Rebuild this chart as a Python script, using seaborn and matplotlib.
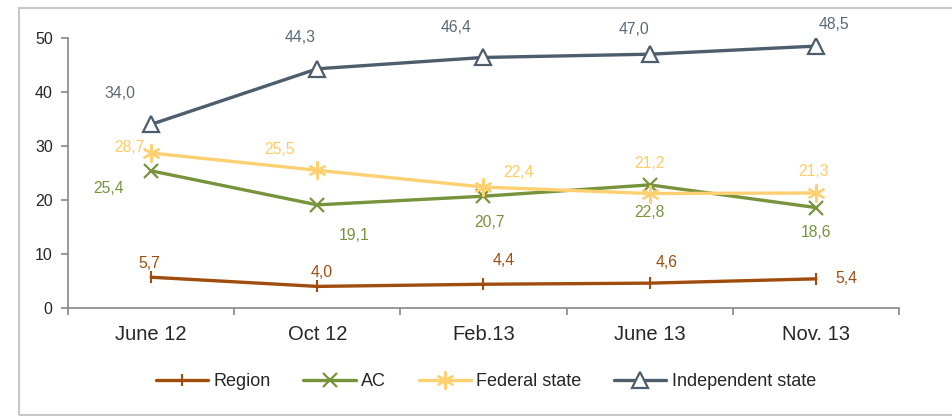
import matplotlib
matplotlib.use("Agg")
import matplotlib.pyplot as plt
import matplotlib.patches as patches
import seaborn as sns
import pandas as pd

# Survey waves and shares (%)
periods = ["June 12", "Oct 12", "Feb.13", "June 13", "Nov. 13"]
region = [5.7, 4.0, 4.4, 4.6, 5.4]
ac = [25.4, 19.1, 20.7, 22.8, 18.6]
federal_state = [28.7, 25.5, 22.4, 21.2, 21.3]
independent_state = [34.0, 44.3, 46.4, 47.0, 48.5]
series_names = ["Region", "AC", "Federal state", "Independent state"]

sns.set_style("white")
plt.rcParams["font.family"] = ["Liberation Sans", "DejaVu Sans"]

df = pd.DataFrame({"period": periods, "Region": region, "AC": ac,
                   "Federal state": federal_state, "Independent state": independent_state})

colors = {"Region": "#A04C0C", "AC": "#77933C", "Federal state": "#FFD071", "Independent state": "#4E5D6C"}
label_colors = {"Region": "#A04C0C", "AC": "#77933C", "Federal state": "#FFCC66", "Independent state": "#5A6876"}
marker_kw = {
    "Region": dict(marker="|", markersize=8, markeredgewidth=1.5),
    "AC": dict(marker="x", markersize=10, markeredgewidth=1.6),
    "Federal state": dict(marker=(6, 2, 0), markersize=13, markeredgewidth=1.6),
    "Independent state": dict(marker="^", markersize=11, markeredgewidth=1.6, markerfacecolor="white"),
}

# label offsets in pixels (dx, dy) relative to each point
offsets = {
    "Region": [(-2, 14), (4, 14), (20, 24), (17, 21), (30, 0)],
    "AC": [(-43, -18), (37, -31), (6, -26), (0, -28), (0, -25)],
    "Federal state": [(-22, 6), (-38, 21), (35, 15), (0, 30), (-2, 21)],
    "Independent state": [(-31, 31), (-17, 31), (-27, 30), (-16, 25), (18, 22)],
}

fig = plt.figure(figsize=(9.53, 4.16), dpi=100)
ax = fig.add_axes([68 / 953, 1 - 308 / 416, 831 / 953, 270 / 416])

x = list(range(len(periods)))
for name in series_names:
    sns.lineplot(x=x, y=df[name], ax=ax, color=colors[name], linewidth=2.4,
                 markeredgecolor=colors[name], label=name, **marker_kw[name])
    for i, v in enumerate(df[name]):
        dx, dy = offsets[name][i]
        ax.annotate(f"{v:.1f}".replace(".", ","), (i, v), xytext=(dx, dy),
                    textcoords="offset pixels", ha="center", va="center",
                    fontsize=11.3, color=label_colors[name])

ax.set_xlim(-0.5, 4.5)
ax.set_ylim(0, 50)
ax.set_yticks(range(0, 51, 10))
ax.set_xticks(x)
ax.set_xticklabels(periods, fontsize=14.5)
ax.set_xticks([i - 0.5 for i in range(6)], minor=True)
ax.tick_params(axis="x", which="major", bottom=True, length=0, pad=12)
ax.tick_params(axis="x", which="minor", bottom=True, length=5, color="#868686", width=1.2)
ax.tick_params(axis="y", left=True, length=5, color="#868686", width=1.2, labelsize=11.5, pad=6)
ax.set_xlabel("")
ax.set_ylabel("")
for s in ["top", "right"]:
    ax.spines[s].set_visible(False)
for s in ["left", "bottom"]:
    ax.spines[s].set_color("#868686")
    ax.spines[s].set_linewidth(1.2)

h, l = ax.get_legend_handles_labels()
ax.legend_.remove()
fig.legend(h, l, loc="center", bbox_to_anchor=(486 / 953, 1 - 382 / 416), ncol=4,
           frameon=False, fontsize=13, handlelength=2.9, handletextpad=0.3, columnspacing=1.8)

fig.patches.append(patches.Rectangle((19 / 953, 1 / 416), 2, 1 - 9 / 416, transform=fig.transFigure,
                                     fill=False, edgecolor="#C8C8C8", linewidth=1.5))

fig.savefig("out.png", dpi=100)
